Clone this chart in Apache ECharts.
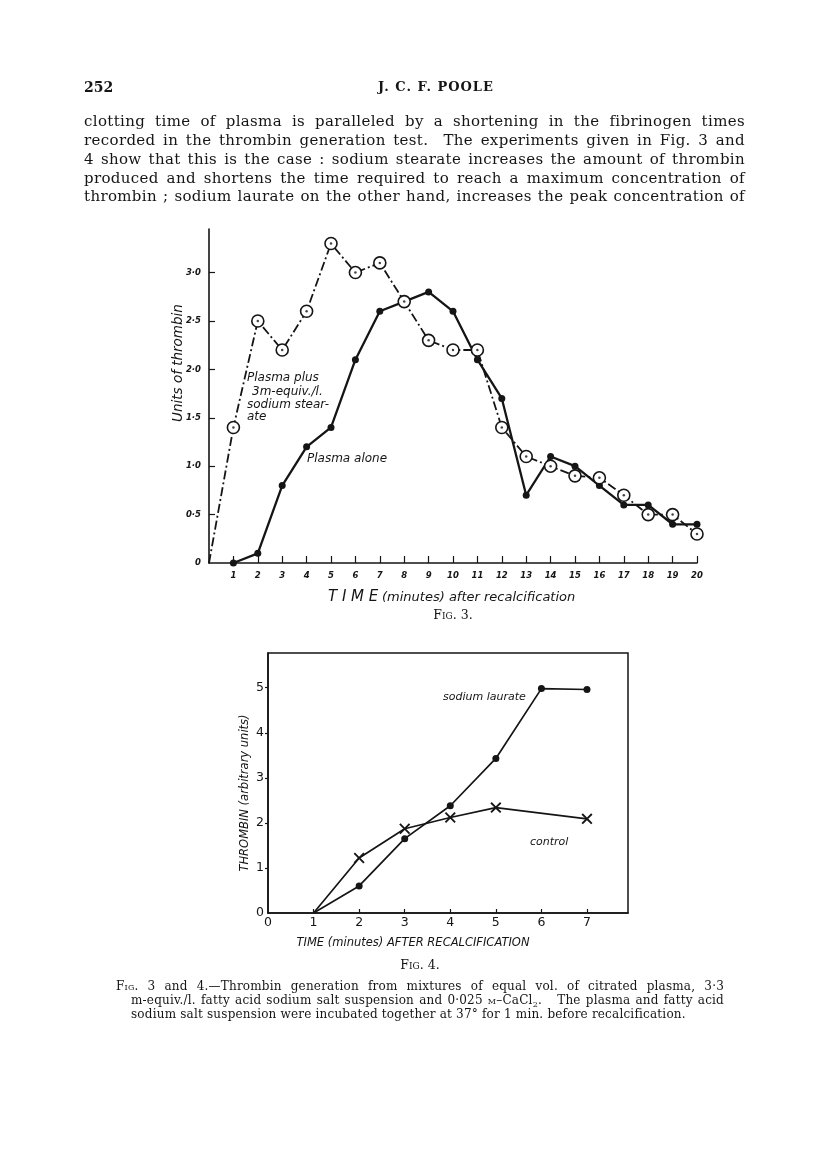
<!DOCTYPE html>
<html>
<head>
<meta charset="utf-8">
<script src="https://cdn.jsdelivr.net/npm/echarts@6/dist/echarts.min.js"></script>
<style>
  html, body { margin: 0; padding: 0; background: #fff; }
  #page { position: relative; width: 816px; height: 1154px; overflow: hidden; }
  #chart { position: absolute; left: 0; top: 0; width: 816px; height: 1154px; }
  .t { position: absolute; color: #151515; font-family: "DejaVu Serif", serif; white-space: nowrap; }
  .just { white-space: normal; text-align: justify; text-align-last: justify; }
  .sc { font-variant: small-caps; }
  .p { font-size: 15px; letter-spacing: 0.35px; line-height: 19px; }
  .c { font-size: 12px; letter-spacing: 0.2px; line-height: 14px; }
</style>
</head>
<body>
<div id="page">
  <div id="chart"></div>
  <div class="t" style="left:84px;top:79px;font-size:14px;font-weight:bold;">252</div>
  <div class="t" style="left:336px;top:79px;width:200px;text-align:center;font-size:13px;font-weight:bold;letter-spacing:1px;">J. C. F. POOLE</div>

  <div class="t just p" style="left:84px;top:112px;width:661px;">clotting time of plasma is paralleled by a shortening in the fibrinogen times</div>
  <div class="t just p" style="left:84px;top:131px;width:661px;">recorded in the thrombin generation test.&nbsp; The experiments given in Fig. 3 and</div>
  <div class="t just p" style="left:84px;top:150px;width:661px;">4 show that this is the case : sodium stearate increases the amount of thrombin</div>
  <div class="t just p" style="left:84px;top:169px;width:661px;">produced and shortens the time required to reach a maximum concentration of</div>
  <div class="t just p" style="left:84px;top:187px;width:661px;">thrombin ; sodium laurate on the other hand, increases the peak concentration of</div>

  <div class="t sc" style="left:403px;top:607px;width:100px;text-align:center;font-size:12.5px;">Fig. 3.</div>
  <div class="t sc" style="left:370px;top:957px;width:100px;text-align:center;font-size:12.5px;">Fig. 4.</div>

  <div class="t just c" style="left:116px;top:979px;width:608px;"><span class="sc">Fig.</span> 3 and 4.—Thrombin generation from mixtures of equal vol. of citrated plasma, 3·3</div>
  <div class="t just c" style="left:131px;top:993px;width:593px;">m-equiv./l. fatty acid sodium salt suspension and 0·025 <span class="sc">m</span>–CaCl<sub style="font-size:8px;line-height:0;">2</sub>.&nbsp;&nbsp; The plasma and fatty acid</div>
  <div class="t c" style="left:131px;top:1007px;">sodium salt suspension were incubated together at 37° for 1 min. before recalcification.</div>
</div>
<script>
// Fig. 3 data (minutes after recalcification, units of thrombin)
var minutes3 = [0, 1, 2, 3, 4, 5, 6, 7, 8, 9, 10, 11, 12, 13, 14, 15, 16, 17, 18, 19, 20];
var stearate = [0, 1.4, 2.5, 2.2, 2.6, 3.3, 3.0, 3.1, 2.7, 2.3, 2.2, 2.2, 1.4, 1.1, 1.0, 0.9, 0.88, 0.7, 0.5, 0.5, 0.3];
var plasmaAlone = [null, 0, 0.1, 0.8, 1.2, 1.4, 2.1, 2.6, 2.7, 2.8, 2.6, 2.1, 1.7, 0.7, 1.1, 1.0, 0.8, 0.6, 0.6, 0.4, 0.4];
var xTicks3 = [1, 2, 3, 4, 5, 6, 7, 8, 9, 10, 11, 12, 13, 14, 15, 16, 17, 18, 19, 20];
var yTicks3 = [0, 0.5, 1.0, 1.5, 2.0, 2.5, 3.0];

// Fig. 4 data
var minutes4 = [1, 2, 3, 4, 5, 6, 7];
var laurate = [0, 0.6, 1.65, 2.38, 3.43, 4.98, 4.96];
var control = [0, 1.22, 1.87, 2.12, 2.34, null, 2.09];
var xTicks4 = [0, 1, 2, 3, 4, 5, 6, 7];
var yTicks4 = [0, 1, 2, 3, 4, 5];

var ink = '#151515';
var crossPath = 'path://M0,1.2 L1.2,0 L5,3.8 L8.8,0 L10,1.2 L6.2,5 L10,8.8 L8.8,10 L5,6.2 L1.2,10 L0,8.8 L3.8,5 Z';

function pairs(xs, ys, firstNoSymbol) {
  var out = [];
  for (var i = 0; i < xs.length; i++) {
    if (ys[i] === null && out.length === 0) continue;
    var p = { value: [xs[i], ys[i] === null ? '-' : ys[i]] };
    if (firstNoSymbol && out.length === 0) p.symbol = 'none';
    out.push(p);
  }
  return out;
}

var chart = echarts.init(document.getElementById('chart'), null, { renderer: 'canvas' });

var option = {
  animation: false,
  backgroundColor: 'transparent',
  grid: [
    { left: 209, top: 229, width: 488, height: 334, show: false },
    { left: 268, top: 653, width: 360, height: 260, show: true, borderColor: ink, borderWidth: 1.5, backgroundColor: 'transparent' }
  ],
  xAxis: [{
    gridIndex: 0, type: 'value', min: 0, max: 20,
    axisLine: { lineStyle: { color: ink, width: 1.6 } },
    axisTick: { inside: true, length: 7, customValues: xTicks3, lineStyle: { color: ink, width: 1.2 } },
    axisLabel: { customValues: xTicks3, margin: 8, color: ink, fontFamily: 'DejaVu Sans', fontStyle: 'italic', fontWeight: 'bold', fontSize: 8.5 },
    splitLine: { show: false }
  }, {
    gridIndex: 1, type: 'value', min: 0, max: 7.9,
    axisLine: { lineStyle: { color: ink, width: 1.6 } },
    axisTick: { inside: true, length: 4, customValues: [1, 2, 3, 4, 5, 6, 7], lineStyle: { color: ink, width: 1.2 } },
    axisLabel: { customValues: xTicks4, margin: 3, color: ink, fontFamily: 'DejaVu Sans', fontSize: 12.5 },
    splitLine: { show: false }
  }],
  yAxis: [{
    gridIndex: 0, type: 'value', min: 0, max: 3.45,
    axisLine: { lineStyle: { color: ink, width: 1.6 } },
    axisTick: { inside: true, length: 6, customValues: yTicks3.slice(1), lineStyle: { color: ink, width: 1.2 } },
    axisLabel: {
      customValues: yTicks3, margin: 8, color: ink, fontFamily: 'DejaVu Sans', fontStyle: 'italic', fontWeight: 'bold', fontSize: 8.5,
      formatter: function(v) { return v === 0 ? '0' : v.toFixed(1).replace('.', '·'); }
    },
    splitLine: { show: false }
  }, {
    gridIndex: 1, type: 'value', min: 0, max: 5.77,
    axisLine: { lineStyle: { color: ink, width: 1.6 } },
    axisTick: { inside: false, length: 3, customValues: yTicks4.slice(1), lineStyle: { color: ink, width: 1.2 } },
    axisLabel: { customValues: yTicks4, margin: 4, color: ink, fontFamily: 'DejaVu Sans', fontSize: 12.5 },
    splitLine: { show: false }
  }],
  series: [{
    name: 'Plasma alone', type: 'line', xAxisIndex: 0, yAxisIndex: 0,
    data: pairs(minutes3, plasmaAlone, false),
    symbol: 'circle', symbolSize: 7, z: 2,
    itemStyle: { color: ink },
    lineStyle: { color: ink, width: 2.3 }
  }, {
    name: 'Plasma plus sodium stearate', type: 'line', xAxisIndex: 0, yAxisIndex: 0,
    data: pairs(minutes3, stearate, true),
    symbol: 'circle', symbolSize: 12, z: 3,
    itemStyle: { color: '#fff', borderColor: ink, borderWidth: 1.6 },
    lineStyle: { color: ink, width: 1.8, type: [9, 3, 2, 3] }
  }, {
    name: 'stearate centres', type: 'scatter', xAxisIndex: 0, yAxisIndex: 0,
    data: pairs(minutes3, stearate, false).slice(1),
    symbol: 'circle', symbolSize: 2.5, z: 4,
    itemStyle: { color: ink }
  }, {
    name: 'sodium laurate', type: 'line', xAxisIndex: 1, yAxisIndex: 1,
    data: pairs(minutes4, laurate, true),
    symbol: 'circle', symbolSize: 7,
    itemStyle: { color: ink },
    lineStyle: { color: ink, width: 1.7 }
  }, {
    name: 'control', type: 'line', xAxisIndex: 1, yAxisIndex: 1,
    data: pairs(minutes4, control, true), connectNulls: true,
    symbol: crossPath, symbolSize: 11,
    itemStyle: { color: ink },
    lineStyle: { color: ink, width: 1.7 }
  }],
  graphic: [
    { type: 'text', x: 178, y: 363, rotation: Math.PI / 2,
      style: { text: 'Units of thrombin', font: 'italic 13.5px "DejaVu Sans"', fill: ink, textAlign: 'center', textVerticalAlign: 'middle' } },
    { type: 'text', x: 247, y: 378,
      style: { text: 'Plasma plus', font: 'italic 12px "DejaVu Sans"', fill: ink, textVerticalAlign: 'middle' } },
    { type: 'text', x: 252, y: 392,
      style: { text: '3m-equiv./l.', font: 'italic 12px "DejaVu Sans"', fill: ink, textVerticalAlign: 'middle' } },
    { type: 'text', x: 247, y: 405,
      style: { text: 'sodium stear-', font: 'italic 12px "DejaVu Sans"', fill: ink, textVerticalAlign: 'middle' } },
    { type: 'text', x: 247, y: 417,
      style: { text: 'ate', font: 'italic 12px "DejaVu Sans"', fill: ink, textVerticalAlign: 'middle' } },
    { type: 'text', x: 307, y: 459,
      style: { text: 'Plasma alone', font: 'italic 12px "DejaVu Sans"', fill: ink, textVerticalAlign: 'middle' } },
    { type: 'text', x: 328, y: 597,
      style: { text: 'T I M E', font: 'italic 15px "DejaVu Sans"', fill: ink, textVerticalAlign: 'middle' } },
    { type: 'text', x: 382, y: 598,
      style: { text: '(minutes) after recalcification', font: 'italic 13px "DejaVu Sans"', fill: ink, textVerticalAlign: 'middle' } },
    { type: 'text', x: 443, y: 697,
      style: { text: 'sodium laurate', font: 'italic 11px "DejaVu Sans"', fill: ink, textVerticalAlign: 'middle' } },
    { type: 'text', x: 530, y: 842,
      style: { text: 'control', font: 'italic 11px "DejaVu Sans"', fill: ink, textVerticalAlign: 'middle' } },
    { type: 'text', x: 245, y: 793, rotation: Math.PI / 2,
      style: { text: 'THROMBIN (arbitrary units)', font: 'italic 11.5px "DejaVu Sans"', fill: ink, textAlign: 'center', textVerticalAlign: 'middle' } },
    { type: 'text', x: 413, y: 943,
      style: { text: 'TIME (minutes) AFTER RECALCIFICATION', font: 'italic 11.5px "DejaVu Sans"', fill: ink, textAlign: 'center', textVerticalAlign: 'middle' } }
  ]
};

chart.setOption(option);
</script>
</body>
</html>
